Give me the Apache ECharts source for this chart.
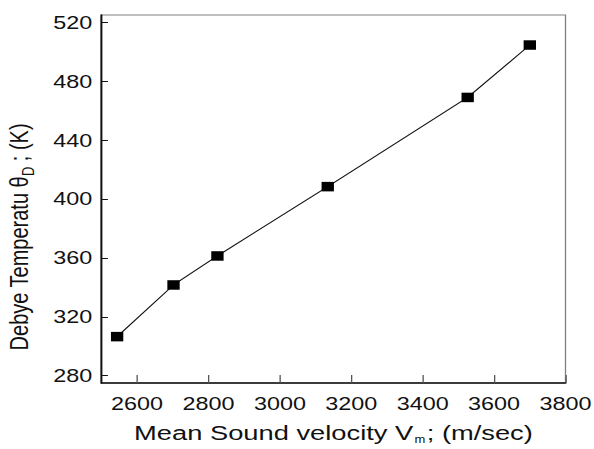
<!DOCTYPE html>
<html>
<head>
<meta charset="utf-8">
<script src="https://cdn.jsdelivr.net/npm/echarts@6/dist/echarts.min.js"></script>
<style>
	html, body { margin: 0; padding: 0; background: #fff; overflow: hidden; }
	/* the reference is stretched sideways, so the chart is drawn narrow and scaled */
	#chart { width: 457px; height: 449px; transform: scaleX(1.3); transform-origin: 0 0; }
</style>
</head>
<body>
<div id="chart"></div>
<script>
	//   data
	var velocity = [2544, 2702, 2825, 3134, 3526, 3700];
	var debyeTemp = [306.5, 341.6, 361.3, 408.4, 469, 504.6];
	//   tick labels
	var xTicks = [2600, 2800, 3000, 3200, 3400, 3600, 3800];
	var yTicks = [280, 320, 360, 400, 440, 480, 520];

	var points = [];
	for (var i = 0; i < velocity.length; i++) {
		points.push([velocity[i], debyeTemp[i]]);
	}

	var font = 'Liberation Sans, Arial, sans-serif';

	var chart = echarts.init(document.getElementById('chart'), null, { renderer: 'svg' });

	var option = {
		animation: false,
		backgroundColor: '#fff',
		grid: {
			left: 78,
			right: 22,
			top: 15,
			bottom: 66,
			outerBoundsMode: 'none',
			show: true,
			borderColor: '#808080',
			borderWidth: 1
		},
		xAxis: {
			type: 'value',
			min: 2500,
			max: 3800,
			name: 'Mean Sound velocity V{sub|m}; (m/sec)',
			nameLocation: 'middle',
			nameGap: 38,
			nameTextStyle: {
				fontFamily: font,
				fontSize: 21,
				color: '#111',
				rich: {
					sub: { fontFamily: font, fontSize: 10, color: '#111', padding: [14, 1, 0, 1] }
				}
			},
			splitLine: { show: false },
			axisLine: { show: true, lineStyle: { color: '#111', width: 1.5 } },
			axisTick: {
				show: true,
				inside: true,
				length: 8,
				customValues: xTicks,
				lineStyle: { color: '#555', width: 1 }
			},
			axisLabel: {
				customValues: xTicks,
				formatter: function (v) { return String(v); },
				fontFamily: font,
				fontSize: 18,
				color: '#111',
				margin: 12
			}
		},
		yAxis: {
			type: 'value',
			min: 275,
			max: 525,
			name: 'Debye Temperatu θ{sub|D} ; (K)',
			nameLocation: 'middle',
			nameGap: 50,
			nameTextStyle: {
				fontFamily: font,
				fontSize: 20,
				color: '#111',
				padding: [0, 76, 0, 0],
				rich: {
					sub: { fontFamily: font, fontSize: 13, color: '#111', padding: [14, 0, 0, 0] }
				}
			},
			splitLine: { show: false },
			axisLine: { show: true, lineStyle: { color: '#111', width: 1.5 } },
			axisTick: {
				show: true,
				inside: true,
				length: 5,
				customValues: yTicks,
				lineStyle: { color: '#111', width: 1 }
			},
			axisLabel: {
				customValues: yTicks,
				fontFamily: font,
				fontSize: 18,
				color: '#111',
				margin: 7
			}
		},
		series: [{
			type: 'line',
			data: points,
			symbol: 'rect',
			symbolSize: 9.5,
			showSymbol: true,
			lineStyle: { color: '#111', width: 1 },
			itemStyle: { color: '#000' }
		}]
	};

	chart.setOption(option);
</script>
</body>
</html>
